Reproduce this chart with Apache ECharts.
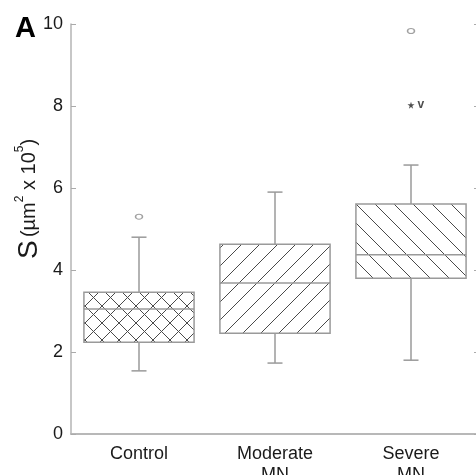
<!DOCTYPE html>
<html>
<head>
<meta charset="utf-8">
<script src="https://cdn.jsdelivr.net/npm/echarts@6/dist/echarts.min.js"></script>
<style>
  html, body { margin: 0; padding: 0; background: #fff; }
  #chart { width: 476px; height: 475px; }
</style>
</head>
<body>
<div id="chart"></div>
<script>
// Groups along the x axis
const categories = ['Control', 'Moderate\nMN', 'Severe\nMN'];
// Box statistics per group: [min, Q1, median, Q3, max]  (S, µm² x 10^5)
const controlStats  = [1.54, 2.24, 3.05, 3.46, 4.80];
const moderateStats = [1.73, 2.46, 3.68, 4.63, 5.90];
const severeStats   = [1.80, 3.80, 4.37, 5.61, 6.56];
// Mild outliers (open circles): [groupIndex, value]
const outliers = [[0, 5.30], [2, 9.83]];
// Extreme outlier (asterisk) : [groupIndex, value]
const extremes = [[2, 8.02]];
// Y axis ticks
const yMin = 0, yMax = 10, yStep = 2;

const FONT = '"Liberation Sans", Arial, Helvetica, sans-serif';
const EDGE = '#9a9a9a';
const HATCH = '#4a4a4a';

// Build a repeating hatch tile: kinds '/', '\\' or 'x'
function hatchTile(kind, p) {
  const c = document.createElement('canvas');
  c.width = p; c.height = p;
  const g = c.getContext('2d');
  g.fillStyle = '#ffffff';
  g.fillRect(0, 0, p, p);
  g.strokeStyle = HATCH;
  g.lineWidth = 1;
  function fwd() { // bottom-left to top-right
    g.beginPath();
    g.moveTo(-2, p + 2); g.lineTo(p + 2, -2);
    g.moveTo(-2, 2); g.lineTo(2, -2);
    g.moveTo(p - 2, p + 2); g.lineTo(p + 2, p - 2);
    g.stroke();
  }
  function back() { // top-left to bottom-right
    g.beginPath();
    g.moveTo(-2, -2); g.lineTo(p + 2, p + 2);
    g.moveTo(p - 2, -2); g.lineTo(p + 2, 2);
    g.moveTo(-2, p - 2); g.lineTo(2, p + 2);
    g.stroke();
  }
  if (kind === '/' || kind === 'x') fwd();
  if (kind === '\\' || kind === 'x') back();
  return { image: c, repeat: 'repeat' };
}
const fills = [hatchTile('x', 17), hatchTile('/', 18), hatchTile('\\', 19)];

const boxData = [controlStats, moderateStats, severeStats].map((s, i) => [i].concat(s));

const chart = echarts.init(document.getElementById('chart'), null, { renderer: 'canvas' });

const option = {
  animation: false,
  backgroundColor: '#ffffff',
  // the frame runs slightly past the right edge of the canvas
  grid: { left: 71, top: 24, width: 408, height: 410, containLabel: false, outerBoundsMode: 'none' },
  xAxis: [
    {
      type: 'category', data: categories, position: 'bottom', boundaryGap: true,
      axisLine: { lineStyle: { color: '#b4b4b4', width: 1.5 } },
      axisTick: { inside: true, length: 5, lineStyle: { color: '#aaaaaa' } },
      axisLabel: { color: '#1a1a1a', fontSize: 18, fontFamily: FONT, lineHeight: 21, margin: 10 }
    },
    {
      type: 'category', data: categories, position: 'top', boundaryGap: true,
      axisLine: { lineStyle: { color: '#b4b4b4', width: 1.5 } },
      axisTick: { inside: true, length: 6, lineStyle: { color: '#aaaaaa' } },
      axisLabel: { show: false }
    }
  ],
  yAxis: [
    {
      type: 'value', min: yMin, max: yMax, interval: yStep, position: 'left',
      splitLine: { show: false },
      axisLine: { show: true, lineStyle: { color: '#b4b4b4', width: 1.5 } },
      axisTick: { show: true, inside: true, length: 5, lineStyle: { color: '#aaaaaa' } },
      axisLabel: { color: '#1a1a1a', fontSize: 18, fontFamily: FONT, margin: 8 }
    },
    {
      type: 'value', min: yMin, max: yMax, interval: yStep, position: 'right',
      splitLine: { show: false },
      axisLine: { show: true, lineStyle: { color: '#b4b4b4', width: 1.5 } },
      axisTick: { show: true, inside: true, length: 5, lineStyle: { color: '#aaaaaa' } },
      axisLabel: { show: false }
    }
  ],
  series: [
    {
      type: 'custom',
      name: 'box',
      xAxisIndex: 0, yAxisIndex: 0,
      data: boxData,
      encode: { x: 0, y: [1, 2, 3, 4, 5] },
      renderItem: function (params, api) {
        const i = api.value(0);
        const pMin = api.coord([i, api.value(1)]);
        const pQ1 = api.coord([i, api.value(2)]);
        const pMed = api.coord([i, api.value(3)]);
        const pQ3 = api.coord([i, api.value(4)]);
        const pMax = api.coord([i, api.value(5)]);
        const x = pMin[0];
        const bw = api.size([1, 0])[0] * 0.81;
        const cap = 15;
        const line = { stroke: EDGE, lineWidth: 1.5 };
        return {
          type: 'group',
          children: [
            { type: 'line', shape: { x1: x, y1: pMax[1], x2: x, y2: pQ3[1] }, style: line },
            { type: 'line', shape: { x1: x - cap / 2, y1: pMax[1], x2: x + cap / 2, y2: pMax[1] }, style: line },
            { type: 'line', shape: { x1: x, y1: pQ1[1], x2: x, y2: pMin[1] }, style: line },
            { type: 'line', shape: { x1: x - cap / 2, y1: pMin[1], x2: x + cap / 2, y2: pMin[1] }, style: line },
            {
              type: 'rect',
              shape: { x: x - bw / 2, y: pQ3[1], width: bw, height: pQ1[1] - pQ3[1] },
              style: { fill: fills[i], stroke: EDGE, lineWidth: 1.5 }
            },
            { type: 'line', shape: { x1: x - bw / 2, y1: pMed[1], x2: x + bw / 2, y2: pMed[1] }, style: line }
          ]
        };
      },
      z: 2
    },
    {
      type: 'scatter',
      name: 'outliers',
      data: outliers,
      symbol: 'circle',
      symbolSize: [7, 5],
      itemStyle: { color: '#ffffff', borderColor: '#8a8a8a', borderWidth: 1.3 },
      z: 3
    },
    {
      type: 'scatter',
      name: 'extremes',
      data: extremes,
      symbol: 'path://M50,0 L61,35 L98,35 L68,57 L79,91 L50,70 L21,91 L32,57 L2,35 L39,35 Z',
      symbolSize: 7,
      itemStyle: { color: '#222222' },
      label: {
        show: true, position: 'right', distance: 3, formatter: 'v',
        color: '#222222', fontSize: 12, fontWeight: 'bold', fontFamily: FONT
      },
      z: 3
    }
  ],
  graphic: [
    {
      type: 'text', left: 15, top: 14,
      style: { text: 'A', font: 'bold 29px ' + FONT, fill: '#000000' }
    },
    {
      type: 'text', x: 29, y: 199, rotation: Math.PI / 2,
      style: {
        text: '{s|S} {p|(µm}{sup|2}{p| x 10}{sup|5}{p|)}',
        align: 'center', verticalAlign: 'middle',
        fill: '#1a1a1a',
        rich: {
          s: { fontSize: 28, fontFamily: FONT, fill: '#1a1a1a', lineHeight: 30, verticalAlign: 'middle' },
          p: { fontSize: 20, fontFamily: FONT, fill: '#1a1a1a', lineHeight: 30, verticalAlign: 'middle' },
          sup: { fontSize: 12, fontFamily: FONT, fill: '#1a1a1a', lineHeight: 10, verticalAlign: 'top' }
        }
      }
    }
  ]
};

chart.setOption(option);
</script>
</body>
</html>
